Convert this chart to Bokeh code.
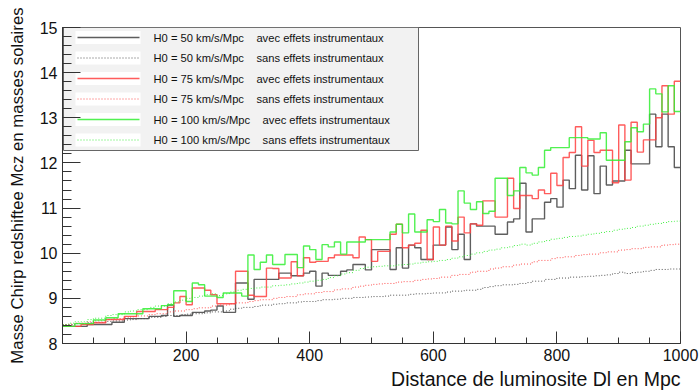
from bokeh.plotting import figure
from bokeh.models import Range1d, FixedTicker, Title
from bokeh.core.properties import value
from bokeh.embed import file_html
from bokeh.resources import INLINE

# ---------------- data ----------------
bin_width = 10
bin_left = list(range(0, 1000, bin_width))

h50_avec = [8.38, 8.38, 8.38, 8.38, 8.42, 8.42, 8.42, 8.42, 8.47, 8.47,
            8.55, 8.55, 8.55, 8.55, 8.60, 8.60, 8.62, 8.85, 8.60, 8.62,
            8.62, 8.69, 8.69, 8.72, 8.74, 8.83, 8.69, 8.69, 9.34, 9.34,
            8.98, 9.42, 9.42, 9.42, 9.42, 9.56, 9.56, 9.50, 9.50, 9.56,
            9.60, 9.27, 9.56, 9.51, 9.51, 9.60, 9.63, 9.75, 9.75, 9.63,
            10.08, 10.08, 10.08, 9.64, 10.12, 9.67, 10.18, 10.12, 9.86, 9.86,
            10.18, 10.18, 10.58, 10.08, 10.42, 9.86, 10.65, 10.60, 10.60, 10.60,
            10.42, 10.42, 10.69, 10.76, 11.55, 10.47, 10.76, 10.76, 11.13, 11.21,
            11.02, 11.62, 11.43, 12.17, 11.40, 12.16, 11.32, 11.93, 11.51, 11.60,
            11.60, 12.28, 11.98, 11.98, 11.98, 13.08, 12.36, 13.08, 12.36, 11.90]

h50_sans = [8.42, 8.42, 8.44, 8.44, 8.46, 8.47, 8.47, 8.49, 8.50, 8.50,
            8.52, 8.53, 8.55, 8.55, 8.58, 8.58, 8.60, 8.62, 8.62, 8.64,
            8.65, 8.66, 8.66, 8.68, 8.70, 8.70, 8.72, 8.76, 8.78, 8.80,
            8.80, 8.82, 8.85, 8.85, 8.87, 8.88, 8.90, 8.90, 8.92, 8.93,
            8.93, 8.95, 8.97, 8.97, 8.98, 9.00, 9.00, 9.02, 9.02, 9.03,
            9.04, 9.04, 9.05, 9.07, 9.07, 9.07, 9.09, 9.10, 9.10, 9.11,
            9.12, 9.12, 9.14, 9.16, 9.16, 9.18, 9.18, 9.20, 9.24, 9.26,
            9.28, 9.30, 9.30, 9.31, 9.33, 9.35, 9.38, 9.38, 9.42, 9.42,
            9.45, 9.45, 9.47, 9.47, 9.48, 9.49, 9.50, 9.51, 9.52, 9.55,
            9.58, 9.55, 9.57, 9.58, 9.60, 9.62, 9.64, 9.64, 9.65, 9.65]

h75_avec = [8.38, 8.38, 8.38, 8.42, 8.42, 8.46, 8.46, 8.53, 8.53, 8.53,
            8.60, 8.60, 8.71, 8.71, 8.71, 8.75, 8.75, 8.80, 8.90, 9.04,
            8.86, 9.23, 9.23, 9.18, 9.08, 8.88, 8.88, 8.88, 9.60, 9.60,
            9.07, 9.04, 9.04, 9.67, 9.66, 9.45, 9.45, 9.81, 9.50, 9.90,
            9.80, 9.82, 9.82, 9.90, 9.96, 9.96, 9.96, 9.90, 10.36, 10.30,
            9.82, 10.04, 10.04, 10.42, 10.64, 10.12, 10.18, 10.22, 10.51, 9.86,
            10.58, 10.18, 10.60, 10.27, 10.80, 10.45, 10.65, 10.62, 11.16, 11.16,
            10.80, 10.80, 11.66, 10.99, 11.28, 11.28, 11.21, 11.40, 11.32, 11.77,
            11.50, 12.12, 12.23, 12.80, 11.93, 12.50, 12.23, 12.28, 12.28, 11.56,
            12.84, 11.62, 12.90, 12.24, 12.51, 12.51, 13.00, 13.71, 13.08, 13.81]

h75_sans = [8.42, 8.43, 8.45, 8.45, 8.48, 8.50, 8.50, 8.53, 8.55, 8.55,
            8.57, 8.59, 8.61, 8.61, 8.64, 8.66, 8.66, 8.70, 8.72, 8.72,
            8.75, 8.77, 8.79, 8.79, 8.83, 8.85, 8.85, 8.88, 8.90, 8.90,
            8.93, 8.95, 8.97, 8.97, 9.00, 9.02, 9.04, 9.04, 9.08, 9.10,
            9.10, 9.13, 9.15, 9.15, 9.19, 9.21, 9.21, 9.25, 9.27, 9.29,
            9.31, 9.32, 9.33, 9.33, 9.36, 9.37, 9.37, 9.40, 9.42, 9.43,
            9.44, 9.47, 9.47, 9.51, 9.53, 9.53, 9.58, 9.60, 9.60, 9.65,
            9.67, 9.70, 9.70, 9.74, 9.76, 9.76, 9.81, 9.84, 9.84, 9.88,
            9.90, 9.92, 9.92, 9.95, 9.97, 9.98, 9.98, 10.01, 10.03, 10.03,
            10.07, 10.08, 10.10, 10.10, 10.13, 10.14, 10.14, 10.18, 10.19, 10.20]

h100_avec = [8.38, 8.38, 8.44, 8.44, 8.44, 8.52, 8.52, 8.57, 8.57, 8.66,
             8.66, 8.66, 8.66, 8.77, 8.77, 8.77, 8.84, 8.86, 9.17, 9.17,
             8.93, 9.34, 9.30, 9.05, 9.05, 9.02, 9.12, 9.12, 9.12, 9.05,
             9.96, 9.64, 9.80, 9.96, 9.75, 9.75, 9.97, 9.97, 9.68, 10.16,
             10.08, 9.86, 10.19, 10.14, 10.25, 9.98, 10.25, 10.25, 10.25, 10.30,
             10.30, 10.30, 10.30, 10.47, 10.64, 10.45, 10.87, 10.47, 10.47, 10.74,
             10.70, 10.97, 10.67, 10.65, 11.38, 11.11, 10.97, 11.14, 10.88, 10.93,
             11.66, 11.66, 11.28, 11.38, 11.90, 11.78, 11.73, 11.90, 12.28, 12.34,
             12.34, 12.34, 12.56, 12.56, 12.56, 12.53, 12.53, 12.67, 12.06, 12.06,
             12.06, 12.47, 12.78, 12.69, 12.86, 13.64, 13.53, 13.13, 13.71, 13.14]

h100_sans = [8.42, 8.45, 8.48, 8.48, 8.53, 8.56, 8.56, 8.62, 8.64, 8.64,
             8.70, 8.72, 8.75, 8.75, 8.80, 8.83, 8.83, 8.88, 8.92, 8.96,
             9.00, 9.02, 9.05, 9.08, 9.10, 9.06, 9.10, 9.14, 9.18, 9.20,
             9.22, 9.23, 9.25, 9.25, 9.28, 9.29, 9.30, 9.32, 9.34, 9.36,
             9.38, 9.40, 9.42, 9.46, 9.50, 9.54, 9.57, 9.62, 9.66, 9.69,
             9.70, 9.71, 9.72, 9.72, 9.74, 9.75, 9.76, 9.78, 9.80, 9.81,
             9.82, 9.84, 9.86, 9.89, 9.92, 9.95, 9.98, 10.01, 10.04, 10.07,
             10.09, 10.12, 10.14, 10.17, 10.20, 10.18, 10.22, 10.25, 10.28, 10.31,
             10.33, 10.35, 10.37, 10.38, 10.40, 10.42, 10.44, 10.46, 10.48, 10.51,
             10.53, 10.55, 10.57, 10.60, 10.62, 10.64, 10.66, 10.68, 10.70, 10.71]

legend_labels = [
    "H0 = 50 km/s/Mpc\u00a0\u00a0\u00a0\u00a0avec effets instrumentaux",
    "H0 = 50 km/s/Mpc\u00a0\u00a0\u00a0\u00a0sans effets instrumentaux",
    "H0 = 75 km/s/Mpc\u00a0\u00a0\u00a0\u00a0avec effets instrumentaux",
    "H0 = 75 km/s/Mpc\u00a0\u00a0\u00a0\u00a0sans effets instrumentaux",
    "H0 = 100 km/s/Mpc\u00a0\u00a0\u00a0\u00a0avec effets instrumentaux",
    "H0 = 100 km/s/Mpc\u00a0\u00a0\u00a0\u00a0sans effets instrumentaux",
]

x_major = [200, 400, 600, 800, 1000]
x_minor = list(range(50, 1000, 50))
y_major = [8, 9, 10, 11, 12, 13, 14, 15]
y_minor = [round(8 + 0.2 * i, 1) for i in range(36)]

x_title = "Distance de luminosite Dl en Mpc"
y_title = "Masse Chirp redshiftee Mcz en masses solaires"

# ---------------- layout / style ----------------
FONT = "Liberation Sans"
W, H = 700, 392
FL, FR, FT, FB = 62, 680, 27, 343
X0, X1, Y0, Y1 = 0, 1000, 8, 15

def dx(px):
    return X0 + (px - FL) / (FR - FL) * (X1 - X0)

def dy(py):
    return Y1 - (py - FT) / (FB - FT) * (Y1 - Y0)

p = figure(width=W, height=H, x_range=Range1d(X0, X1), y_range=Range1d(Y0, Y1),
           output_backend="svg", toolbar_location=None,
           min_border_left=FL, min_border_right=W - FR,
           min_border_top=FT, min_border_bottom=H - FB)
p.grid.visible = False
p.outline_line_color = "#555555"
p.background_fill_color = "white"
p.border_fill_color = "white"

for ax in (p.xaxis[0], p.yaxis[0]):
    ax.axis_line_color = "#333333"
    ax.major_tick_line_color = "#333333"
    ax.minor_tick_line_color = "#333333"
    ax.major_tick_out = 0
    ax.minor_tick_out = 0
    ax.major_label_text_font = FONT
    ax.major_label_text_font_size = "16px"
    ax.major_label_text_color = "#111111"

p.xaxis.ticker = FixedTicker(ticks=x_major, minor_ticks=x_minor)
p.xaxis.major_tick_in = 12
p.xaxis.minor_tick_in = 6
p.xaxis.major_label_standoff = 5

p.yaxis.ticker = FixedTicker(ticks=y_major, minor_ticks=y_minor)
p.yaxis.major_tick_in = 18
p.yaxis.minor_tick_in = 9
p.yaxis.major_label_standoff = 5
p.yaxis.axis_label = y_title
p.yaxis.axis_label_text_font = FONT
p.yaxis.axis_label_text_font_size = "16.8px"
p.yaxis.axis_label_text_font_style = "normal"
p.yaxis.axis_label_text_color = "#111111"
p.yaxis.axis_label_standoff = 10

p.add_layout(Title(text=x_title, align="right", text_font=FONT,
                   text_font_size="19.5px", text_font_style="normal",
                   text_color="#111111", standoff=4), "below")

xs = bin_left + [bin_left[-1] + bin_width]
series = [
    (h50_avec, "#555555", None, 1.4, 0.95),
    (h50_sans, "#444444", "1 2", 1.0, 0.9),
    (h75_avec, "#ff4040", None, 1.4, 0.85),
    (h75_sans, "#ff4040", "1 2", 1.0, 0.9),
    (h100_avec, "#33ee33", None, 1.4, 0.85),
    (h100_sans, "#33ee33", "1 2", 1.0, 0.9),
]
for vals, col, dash, lw, a in series:
    ys = vals + [vals[-1]]
    kw = dict(line_color=col, line_width=lw, line_alpha=a)
    if dash:
        kw["line_dash"] = dash
    p.step(x=xs, y=ys, mode="after", **kw)

# ---------------- legend (ROOT-like box) ----------------
LEG_L, LEG_R, LEG_T, LEG_B = 63, 418, 27, 150
ROW0, ROWDY = 37, 20.5
p.quad(left=[dx(LEG_L)], right=[dx(LEG_R)], top=[dy(LEG_T)], bottom=[dy(LEG_B)],
       fill_color="#f2f2f2", line_color="#666666", line_width=1)
rows = [ROW0 + i * ROWDY for i in range(len(legend_labels))]
p.quad(left=[dx(75)] * len(rows), right=[dx(140)] * len(rows),
       top=[dy(r - 6.5) for r in rows], bottom=[dy(r + 6.5) for r in rows],
       fill_color="white", line_color=None)
for (vals, col, dash, lw, a), r in zip(series, rows):
    kw = dict(line_color=col, line_width=lw, line_alpha=a)
    if dash:
        kw["line_dash"] = dash
    p.segment(x0=[dx(77)], y0=[dy(r)], x1=[dx(139)], y1=[dy(r)], **kw)
p.text(x=[dx(153)] * len(rows), y=[dy(r) for r in rows], text=legend_labels,
       text_font=value(FONT), text_font_size="11.2px", text_baseline="middle",
       text_align="left", text_color="#111111")

open("out.html", "w").write(file_html(p, INLINE))
